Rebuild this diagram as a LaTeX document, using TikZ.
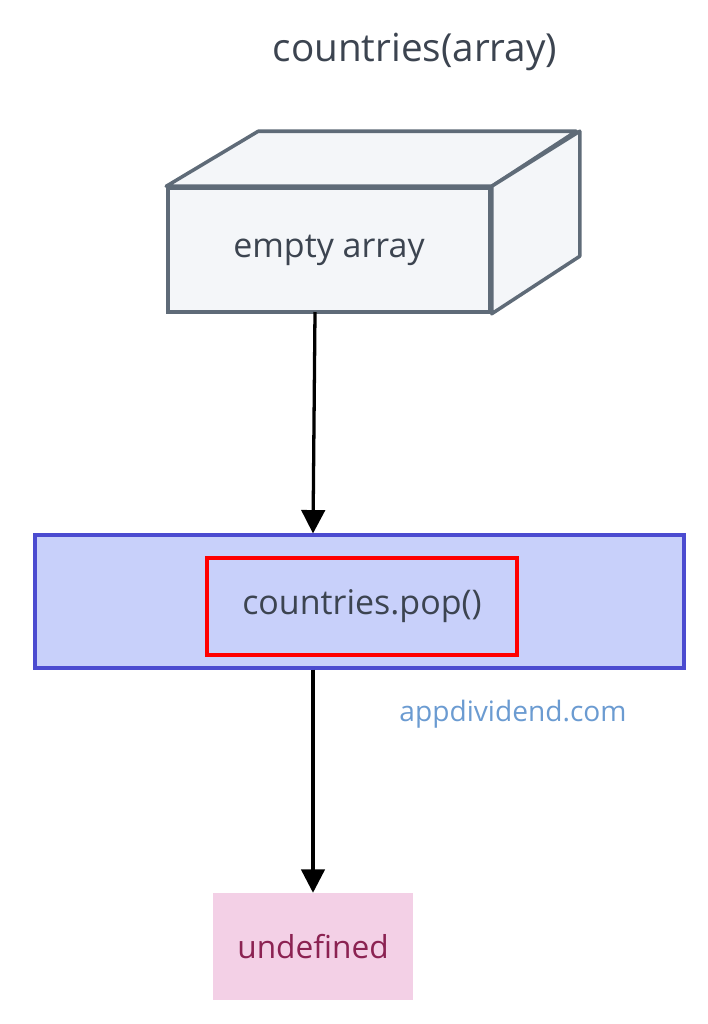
\documentclass[tikz,border=0pt]{standalone}
\usepackage{fontspec}
\setmainfont{Open Sans}
\usetikzlibrary{arrows.meta,positioning,calc}
\definecolor{boxline}{HTML}{5F6B78}
\definecolor{boxfill}{HTML}{F4F6F9}
\definecolor{popfill}{HTML}{C8D0FA}
\definecolor{popline}{HTML}{4B4BD0}
\definecolor{undeffill}{HTML}{F3D0E6}
\definecolor{undeftext}{HTML}{8B2252}
\definecolor{sitetext}{HTML}{6B9BD1}
\definecolor{titletext}{HTML}{3C4450}
\begin{document}
\begin{tikzpicture}[
    x=0.03cm, y=-0.03cm,
    arrow/.style={-{Triangle[length=20pt,width=20pt]}, line width=2.8pt},
    lbl/.style={font=\fontsize{29}{34}\selectfont, text=titletext},
]
\useasboundingbox (0,0) rectangle (708,1024);

% Title
\node[font=\fontsize{33}{38}\selectfont, text=titletext] (title) at (415,52) {countries(array)};

% 3D box
\node[draw=boxline, fill=boxfill, line width=3pt, minimum width=322*0.03cm, minimum height=124*0.03cm, lbl] (empty) at (329,250) {empty array};
\draw[draw=boxline, fill=boxfill, line width=3pt, line join=round]
  (empty.north west) -- ++(92,-55) -- ++(318,0) -- (empty.north east) -- cycle;
\draw[draw=boxline, fill=boxfill, line width=3pt, line join=round]
  (empty.north east) -- ++(88,-55) -- ++(0,125) -- (empty.south east) -- cycle;

% pop box
\node[draw=popline, fill=popfill, line width=2.6pt, minimum width=649*0.03cm, minimum height=133*0.03cm] (pop) at (359.5,601.5) {};
\node[draw=red, line width=3.5pt, minimum width=310*0.03cm, minimum height=97*0.03cm, lbl] (popcall) at (362,606.5) {countries.pop()};
\node[font=\fontsize{24}{28}\selectfont, text=sitetext] (site) at (513,714) {appdividend.com};

% result
\node[fill=undeffill, minimum width=200*0.03cm, minimum height=107*0.03cm, font=\fontsize{27}{32}\selectfont, text=undeftext] (undef) at (313,946.5) {undefined};

% Arrows
\draw[arrow] (315,312) -- (pop.north -| 313,0);
\draw[arrow] (pop.south -| 313,0) -- (undef.north);
\end{tikzpicture}
\end{document}
